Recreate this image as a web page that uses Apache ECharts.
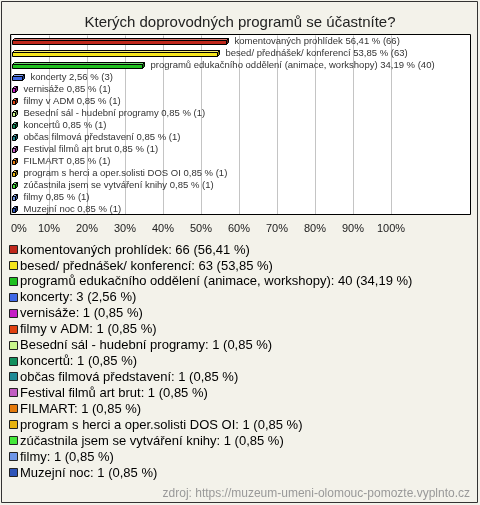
<!DOCTYPE html>
<html>
<head>
<meta charset="utf-8">
<script src="https://cdn.jsdelivr.net/npm/echarts@6/dist/echarts.min.js"></script>
<style>html,body{margin:0;padding:0;background:#f3f2ea;}#c{width:480px;height:505px;}</style>
</head>
<body>
<div id="c"></div>
<script>
var titleText = 'Kterých doprovodných programů se účastníte?';
var categories = ['komentovaných prohlídek','besed/ přednášek/ konferencí','programů edukačního oddělení (animace, workshopy)','koncerty','vernisáže','filmy v ADM','Besední sál - hudební programy','koncertů','občas filmová představení','Festival filmů art brut','FILMART','program s herci a oper.solisti DOS OI','zúčastnila jsem se vytváření knihy','filmy','Muzejní noc'];
var barLabelNames = ['komentovaných prohlídek','besed/ přednášek/ konferencí','programů edukačního oddělení (animace, workshopy)','koncerty','vernisáže','filmy v ADM','Besední sál - hudební programy','koncertů','občas filmová představení','Festival filmů art brut','FILMART','program s herci a oper.solisti DOS OI','zúčastnila jsem se vytváření knihy','filmy','Muzejní noc'];
var legendNames = ['komentovaných prohlídek','besed/ přednášek/ konferencí','programů edukačního oddělení (animace, workshopy)','koncerty','vernisáže','filmy v ADM','Besední sál - hudební programy','koncertů','občas filmová představení','Festival filmů art brut','FILMART','program s herci a oper.solisti DOS OI','zúčastnila jsem se vytváření knihy','filmy','Muzejní noc'];
var counts = [66, 63, 40, 3, 1, 1, 1, 1, 1, 1, 1, 1, 1, 1, 1];
var percents = [56.41, 53.85, 34.19, 2.56, 0.85, 0.85, 0.85, 0.85, 0.85, 0.85, 0.85, 0.85, 0.85, 0.85, 0.85];
var barPctLabels = ['56,41', '53,85', '34,19', '2,56', '0,85', '0,85', '0,85', '0,85', '0,85', '0,85', '0,85', '0,85', '0,85', '0,85', '0,85'];
var legendPctLabels = ['56,41', '53,85', '34,19', '2,56', '0,85', '0,85', '0,85', '0,85', '0,85', '0,85', '0,85', '0,85', '0,85', '0,85', '0,85'];
var colors = ['#c0281c','#f5e51c','#1fc01f','#3f68e6','#c41cc4','#e0400f','#c8f58a','#12905e','#1f8a96','#c25ec2','#e57a0c','#e8b410','#45e83a','#6f96e8','#2e54b8'];
var tickValues = [0,10,20,30,40,50,60,70,80,90,100];
var sourceText = 'zdroj: https://muzeum-umeni-olomouc-pomozte.vyplnto.cz';

var FONT = "'Liberation Sans', Arial, sans-serif";

function lighten(hex, f) {
  var r = parseInt(hex.substr(1,2),16), g = parseInt(hex.substr(3,2),16), b = parseInt(hex.substr(5,2),16);
  r = Math.round(r + (255-r)*f); g = Math.round(g + (255-g)*f); b = Math.round(b + (255-b)*f);
  return 'rgb(' + r + ',' + g + ',' + b + ')';
}
function darken(hex, f) {
  var r = parseInt(hex.substr(1,2),16), g = parseInt(hex.substr(3,2),16), b = parseInt(hex.substr(5,2),16);
  return 'rgb(' + Math.round(r*f) + ',' + Math.round(g*f) + ',' + Math.round(b*f) + ')';
}

var data = percents.map(function (p, i) { return [p, i]; });

var graphics = [];
// plot background + frame
graphics.push({type:'rect', z:-100, shape:{x:10.5,y:34.5,width:460,height:180}, style:{fill:'#ffffff', stroke:null}, silent:true});
graphics.push({type:'rect', z:100, shape:{x:10.5,y:34.5,width:460,height:180}, style:{fill:null, stroke:'#000', lineWidth:1}, silent:true});
// outer frame
graphics.push({type:'rect', z:100, shape:{x:1.5,y:1.5,width:476,height:501}, style:{fill:null, stroke:'#333', lineWidth:1}, silent:true});
// legend
var legY0 = 250, legStep = 15.93;
for (var i = 0; i < legendNames.length; i++) {
  var y = legY0 + i * legStep;
  graphics.push({type:'rect', shape:{x:9.5, y:Math.round(y)-4.5, width:8, height:8}, style:{fill:colors[i], stroke:'#222', lineWidth:1}, silent:true});
  graphics.push({type:'text', x:20, y:y, style:{text: legendNames[i] + ': ' + counts[i] + ' (' + legendPctLabels[i] + ' %)', font:'13px ' + FONT, fill:'#000', textVerticalAlign:'middle', verticalAlign:'middle'}, silent:true});
}
graphics.push({type:'text', x:470, y:494, style:{text: sourceText, font:'12px ' + FONT, fill:'#999', textAlign:'right', align:'right', textVerticalAlign:'middle', verticalAlign:'middle'}, silent:true});

var chart = echarts.init(document.getElementById('c'), null, {renderer:'canvas'});
chart.setOption({
  backgroundColor: '#f3f2ea',
  animation: false,
  title: {text: titleText, left: 'center', top: 10, textStyle:{fontFamily: FONT, fontSize: 15, fontWeight:'normal', color:'#222'}},
  grid: {left: 11, right: 89, top: 35.5, bottom: 290, containLabel: false},
  xAxis: {type:'value', min:0, max:100, interval:10,
    axisLine:{show:false}, axisTick:{show:false},
    splitLine:{show:true, lineStyle:{color:'#c4c4c4', width:1}},
    axisLabel:{formatter:'{value}%', fontFamily:FONT, fontSize:11, color:'#222', margin:8, alignMinLabel:'left'}},
  yAxis: {type:'category', data: categories, inverse:true, show:false, boundaryGap:true},
  graphic: graphics,
  series: [{
    type:'custom',
    data: data,
    clip: false,
    renderItem: function (params, api) {
      var i = api.value(1);
      var p0 = api.coord([0, i]);
      var p1 = api.coord([api.value(0), i]);
      var cy = Math.round(p0[1]) + 0.5;
      var x0 = Math.round(p0[0]) + 1.5, x1 = Math.round(p1[0]) + 1.5;
      if (x1 < x0 + 2) x1 = x0 + 2;
      var h = 4, d = 2;
      var top = cy - h/2 + 1, bot = cy + h/2 + 1;
      var c = colors[i];
      return {type:'group', children:[
        {type:'polygon', shape:{points:[[x0,top],[x0+d,top-d],[x1+d,top-d],[x1,top]]}, style:{fill:lighten(c,0.35), stroke:'#000', lineWidth:1}},
        {type:'polygon', shape:{points:[[x1,top],[x1+d,top-d],[x1+d,bot-d],[x1,bot]]}, style:{fill:darken(c,0.6), stroke:'#000', lineWidth:1}},
        {type:'rect', shape:{x:x0, y:top, width:x1-x0, height:h}, style:{fill:c, stroke:'#000', lineWidth:1}},
        {type:'text', x:x1 + d + 6, y:cy, style:{text: barLabelNames[i] + ' ' + barPctLabels[i] + ' % (' + counts[i] + ')', font:'9.5px ' + FONT, fill:'#333', textVerticalAlign:'middle', verticalAlign:'middle'}}
      ]};
    }
  }]
});
</script>
</body>
</html>
